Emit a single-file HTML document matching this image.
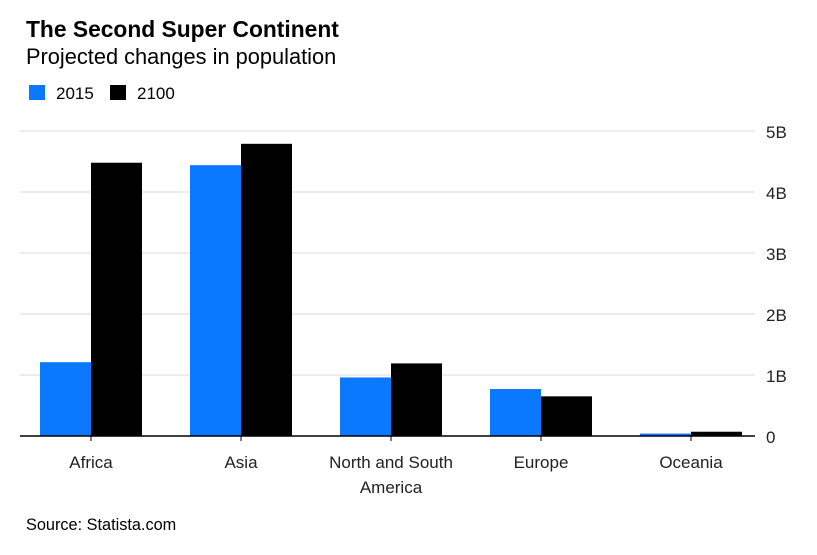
<!DOCTYPE html>
<html><head><meta charset="utf-8"><style>
body{margin:0;background:#fff;font-family:"Liberation Sans",sans-serif;}
svg text{font-family:"Liberation Sans",sans-serif;}
</style></head><body>
<svg width="817" height="550">
<text x="26" y="37" font-size="22.8" font-weight="bold" fill="#000">The Second Super Continent</text>
<text x="26" y="64" font-size="21.8" fill="#000">Projected changes in population</text>
<g>
<rect x="29" y="85" width="16" height="15" fill="#0a78ff"/>
<text x="56" y="99" font-size="17">2015</text>
<rect x="110" y="85" width="16" height="15" fill="#000"/>
<text x="137" y="99" font-size="17">2100</text>
</g>
<g id="plot"></g>
<text x="26" y="530" font-size="16.3" fill="#000">Source: Statista.com</text>
</svg>
<script>
const categories=["Africa","Asia","North and South|America","Europe","Oceania"];
const values2015=[1.21,4.44,0.96,0.77,0.04];
const values2100=[4.48,4.79,1.19,0.65,0.07];
const tickValues=[0,1,2,3,4,5];
const tickLabels=["0","1B","2B","3B","4B","5B"];
const NS="http://www.w3.org/2000/svg";
const g=document.getElementById('plot');
const y0=436,pxPer=61.0;
const y=v=>y0-v*pxPer;
const xc=i=>91+150*i;
const bw=51;
function mk(t,a){const e=document.createElementNS(NS,t);for(const k in a)e.setAttribute(k,a[k]);g.appendChild(e);return e;}
tickValues.forEach((v,i)=>{
 if(v>0){const l=mk('line',{x1:20,x2:755,y1:y(v),y2:y(v),stroke:'#ececec','stroke-width':2});
 
 }
 const t=mk('text',{x:766,y:y(v)+7,'font-size':17,fill:'#222'});t.textContent=tickLabels[i];
 
 
});
categories.forEach((c,i)=>{
 const b1=mk('rect',{x:xc(i)-bw,y:y(values2015[i]),width:bw,height:values2015[i]*pxPer,fill:'#0a78ff'});
 
 
 const b2=mk('rect',{x:xc(i),y:y(values2100[i]),width:bw,height:values2100[i]*pxPer,fill:'#000'});
 
 
 const tk=mk('line',{x1:xc(i),x2:xc(i),y1:y0,y2:y0+5,stroke:'#000','stroke-width':1});
 
 
 c.split('|').forEach((ln,j)=>{
  const t=mk('text',{x:xc(i),y:468+j*25,'font-size':17,'text-anchor':'middle',fill:'#222'});t.textContent=ln;
  
  
 });
});
const base=mk('line',{x1:20,x2:755,y1:y0,y2:y0,stroke:'#000','stroke-width':1.5});


</script>
</body></html>
